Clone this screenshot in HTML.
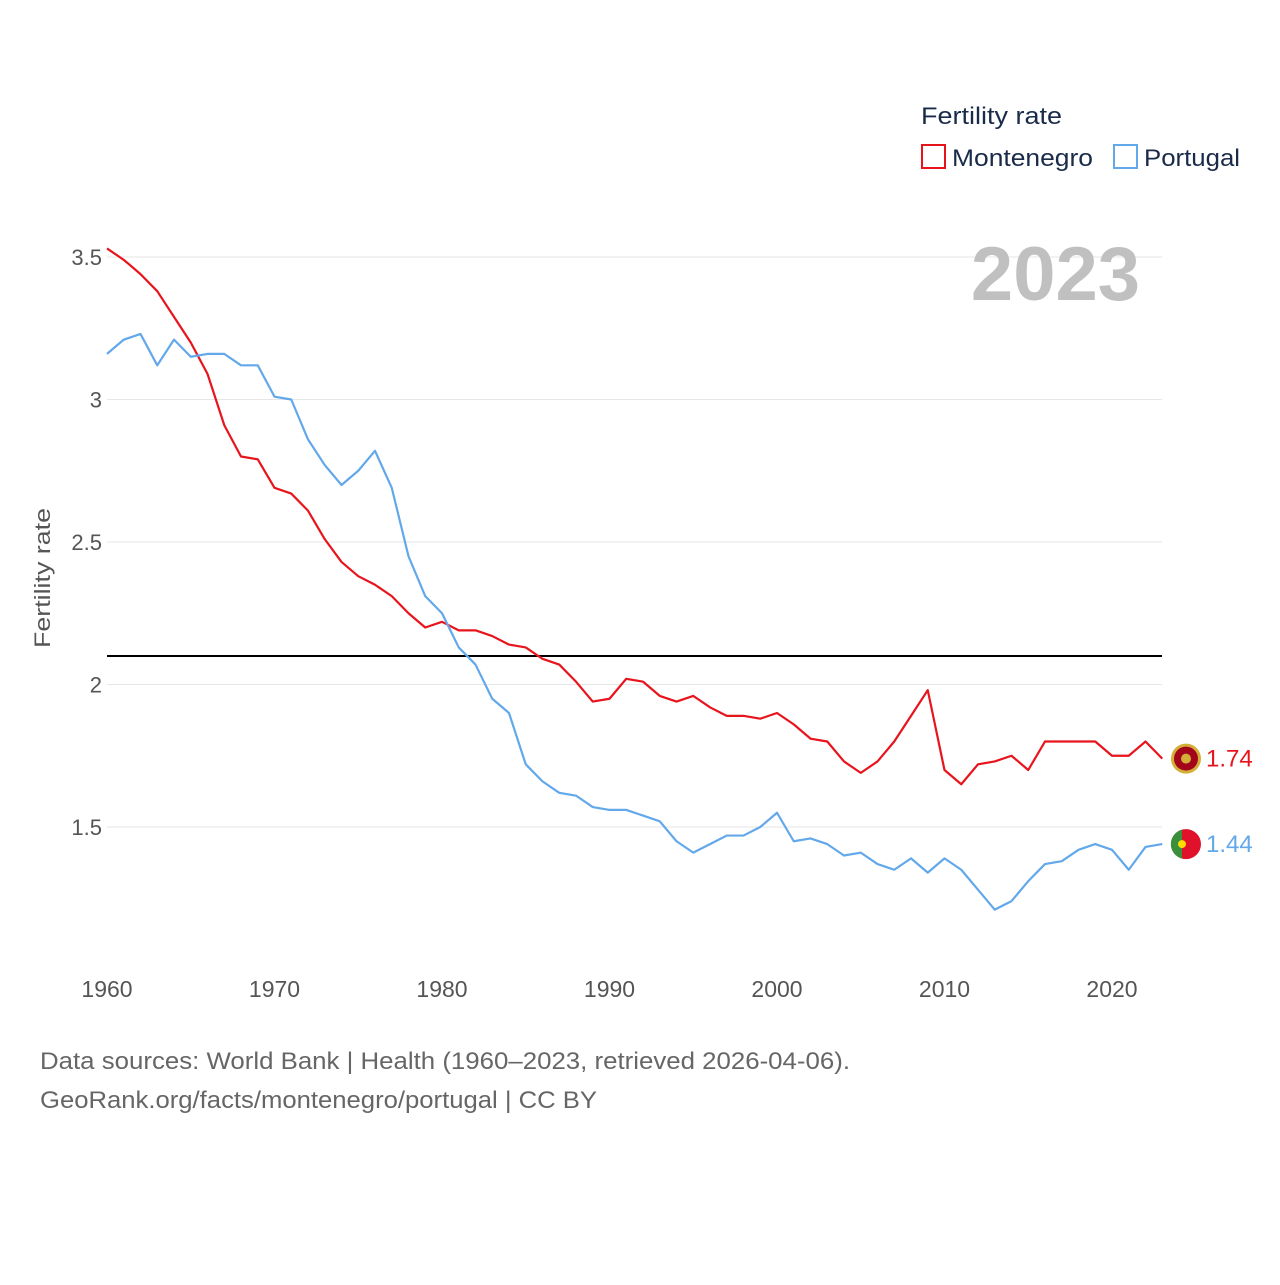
<!DOCTYPE html>
<html><head><meta charset="utf-8"><style>
body{margin:0;background:#fff;font-family:"Liberation Sans",sans-serif;}
svg text{font-family:"Liberation Sans",sans-serif;}
</style></head><body>
<svg id="chart" width="1280" height="1280" viewBox="0 0 1280 1280" xmlns="http://www.w3.org/2000/svg">
<g id="grid"></g>
<g id="yticks"></g>
<g id="xticks"></g>
<text x="50" y="578" transform="rotate(-90 50 578)" text-anchor="middle" font-size="22" fill="#555" textLength="140" lengthAdjust="spacingAndGlyphs">Fertility rate</text>
<text x="1140" y="300" text-anchor="end" font-size="76" font-weight="bold" fill="#c0c0c0">2023</text>
<line id="refline" x1="107" x2="1162" stroke="#000" stroke-width="2"/>
<g id="series"></g>
<g>
<text x="921" y="124" font-size="24" fill="#1a2b4a" textLength="141" lengthAdjust="spacingAndGlyphs">Fertility rate</text>
<g><rect x="922" y="145" width="23" height="23" fill="none" stroke="#e8141c" stroke-width="2"/><text x="952" y="166" font-size="24" fill="#1a2b4a" textLength="141" lengthAdjust="spacingAndGlyphs">Montenegro</text></g>
<g><rect x="1114" y="145" width="23" height="23" fill="none" stroke="#62a8ea" stroke-width="2"/><text x="1144" y="166" font-size="24" fill="#1a2b4a" textLength="96" lengthAdjust="spacingAndGlyphs">Portugal</text></g>
</g>
<text x="40" y="1069" font-size="24" fill="#666" textLength="810" lengthAdjust="spacingAndGlyphs">Data sources: World Bank | Health (1960–2023, retrieved 2026-04-06).</text>
<text x="40" y="1108" font-size="24" fill="#666" textLength="557" lengthAdjust="spacingAndGlyphs">GeoRank.org/facts/montenegro/portugal | CC BY</text>
</svg>
<script>
const years=[];for(let y=1960;y<=2023;y++)years.push(y);
const montenegro=[3.53,3.49,3.44,3.38,3.29,3.20,3.09,2.91,2.80,2.79,2.69,2.67,2.61,2.51,2.43,2.38,2.35,2.31,2.25,2.20,2.22,2.19,2.19,2.17,2.14,2.13,2.09,2.07,2.01,1.94,1.95,2.02,2.01,1.96,1.94,1.96,1.92,1.89,1.89,1.88,1.90,1.86,1.81,1.80,1.73,1.69,1.73,1.80,1.89,1.98,1.70,1.65,1.72,1.73,1.75,1.70,1.80,1.80,1.80,1.80,1.75,1.75,1.80,1.74];
const portugal=[3.16,3.21,3.23,3.12,3.21,3.15,3.16,3.16,3.12,3.12,3.01,3.00,2.86,2.77,2.70,2.75,2.82,2.69,2.45,2.31,2.25,2.13,2.07,1.95,1.90,1.72,1.66,1.62,1.61,1.57,1.56,1.56,1.54,1.52,1.45,1.41,1.44,1.47,1.47,1.50,1.55,1.45,1.46,1.44,1.40,1.41,1.37,1.35,1.39,1.34,1.39,1.35,1.28,1.21,1.24,1.31,1.37,1.38,1.42,1.44,1.42,1.35,1.43,1.44];
const yTicks=[1.5,2,2.5,3,3.5];
const xTicks=[1960,1970,1980,1990,2000,2010,2020];
const refValue=2.1;
const X=y=>107+(y-1960)*16.75;
const Y=v=>257+(3.5-v)*285;
const NS="http://www.w3.org/2000/svg";
function mk(tag,attrs,parent){const e=document.createElementNS(NS,tag);for(const k in attrs)e.setAttribute(k,attrs[k]);parent.appendChild(e);return e;}
const grid=document.getElementById('grid'),yt=document.getElementById('yticks'),xt=document.getElementById('xticks'),ser=document.getElementById('series');
yTicks.forEach(v=>{
 const l=mk('line',{x1:107,x2:1162,y1:Y(v),y2:Y(v),stroke:'#e6e6e6','stroke-width':1},grid);
 
 
 const t=mk('text',{x:102,y:Y(v)+8,'text-anchor':'end','font-size':22,fill:'#555'},yt);
 t.textContent=String(v);
 
 
});
xTicks.forEach(v=>{
 const t=mk('text',{x:X(v),y:997,'text-anchor':'middle','font-size':23,fill:'#555'},xt);
 t.textContent=String(v);
 
 
});
const rl=document.getElementById('refline');rl.setAttribute('y1',Y(refValue));rl.setAttribute('y2',Y(refValue));
function series(vals,color,name,f1,f2){
 const p=mk('polyline',{points:vals.map((v,i)=>X(years[i])+','+Y(v)).join(' '),fill:'none',stroke:color,'stroke-width':2.2,'stroke-linejoin':'round'},ser);
 
 
 const last=vals[vals.length-1],cx=1186,cy=Y(last);
 const g=mk('g',{},ser);
 
 
 mk('circle',{cx:cx,cy:cy,r:15,fill:f1},g);
 if(f2){mk('path',{d:`M${cx-4},${cy-14.5} A15,15 0 0 0 ${cx-4},${cy+14.5} Z`,fill:f2},g);mk('circle',{cx:cx-4,cy:cy,r:4,fill:'#ffdd00'},g);}
 else{mk('circle',{cx:cx,cy:cy,r:12,fill:'#a3061b'},g);mk('circle',{cx:cx,cy:cy,r:5,fill:'#d4af37'},g);}
 const t=mk('text',{x:1206,y:cy+8,'font-size':24,fill:color},ser);
 t.textContent=last.toFixed(2);
 
 
}
series(montenegro,'#e8141c','montenegro','#d4af37',null);
series(portugal,'#62a8ea','portugal','#e0112b','#3a8f3a');
</script>
</body></html>
